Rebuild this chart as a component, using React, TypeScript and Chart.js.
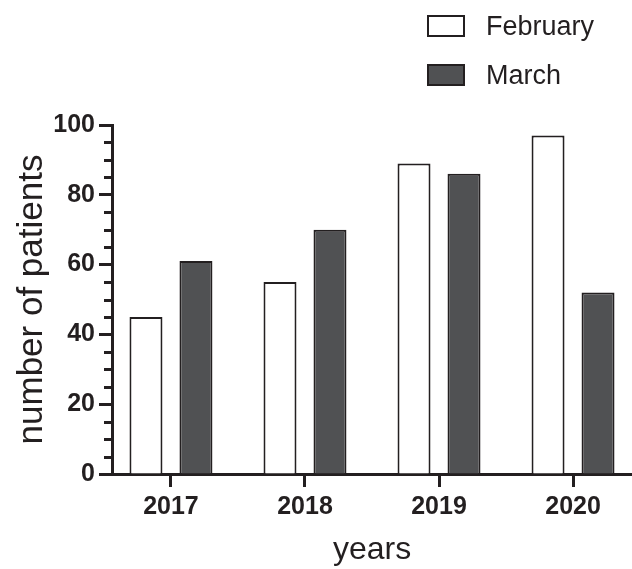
import React, { useEffect, useRef } from 'react';
import { Chart, registerables } from 'chart.js';

Chart.register(...registerables);

// ---- data ----
const categories: string[] = ['2017', '2018', '2019', '2020'];
const seriesLabels: string[] = ['February', 'March'];
const february: number[] = [45, 55, 89, 97];
const march: number[] = [61, 70, 86, 52];
const yMajorTicks: number[] = [0, 20, 40, 60, 80, 100];
const yMinorTicks: number[] = [5, 10, 15, 25, 30, 35, 45, 50, 55, 65, 70, 75, 85, 90, 95];
const xTitle = 'years';
const yTitle = 'number of patients';

// ---- styles ----
const INK = '#231f20';
const FEB_FILL = '#ffffff';
const MAR_FILL = '#505153';
const FONT = '"Liberation Sans", Arial, Helvetica, sans-serif';
const W = 632;
const H = 569;

const decorPlugin = {
  id: 'decor',
  afterDraw(chart: any) {
    const ctx = chart.ctx;
    const y = chart.scales.y;
    const area = chart.chartArea;
    ctx.save();
    // minor ticks on y axis
    ctx.strokeStyle = INK;
    ctx.lineWidth = 3;
    yMinorTicks.forEach((v) => {
      const py = Math.round(y.getPixelForValue(v)) + 0.5;
      ctx.beginPath();
      ctx.moveTo(area.left - 8, py);
      ctx.lineTo(area.left, py);
      ctx.stroke();
    });
    // legend (vertical, top right)
    chart.data.datasets.forEach((ds: any, i: number) => {
      const top = 16 + i * 49;
      ctx.fillStyle = ds.backgroundColor;
      ctx.fillRect(428, top, 36, 20);
      ctx.lineWidth = 2;
      ctx.strokeStyle = INK;
      ctx.strokeRect(428, top, 36, 20);
      ctx.fillStyle = INK;
      ctx.font = `27px ${FONT}`;
      ctx.textBaseline = 'alphabetic';
      ctx.textAlign = 'left';
      ctx.fillText(ds.label, 486, top + 19);
    });
    ctx.restore();
  },
};

export default function App() {
  const ref = useRef<HTMLCanvasElement | null>(null);

  useEffect(() => {
    if (!ref.current) return;
    const chart = new Chart(ref.current, {
      type: 'bar',
      data: {
        datasets: [
          {
            label: seriesLabels[0],
            data: february.map((v, i) => ({ x: i, y: v })),
            backgroundColor: FEB_FILL,
            borderColor: INK,
            borderWidth: 2,
          },
          {
            label: seriesLabels[1],
            data: march.map((v, i) => ({ x: i, y: v })),
            backgroundColor: MAR_FILL,
            borderColor: INK,
            borderWidth: 2,
          },
        ],
      },
      options: {
        responsive: false,
        animation: false,
        devicePixelRatio: 1,
        layout: { padding: { top: 125, left: 0, right: 0, bottom: 0 } },
        datasets: {
          bar: { categoryPercentage: 0.746, barPercentage: 0.66 },
        },
        plugins: {
          legend: { display: false },
          tooltip: { enabled: false },
        },
        scales: {
          x: {
            type: 'linear',
            min: -0.44,
            max: 3.44,
            offset: false,
            afterBuildTicks: (scale: any) => {
              scale.ticks = categories.map((_, i) => ({ value: i }));
            },
            afterFit: (scale: any) => {
              scale.height = 95;
            },
            ticks: {
              autoSkip: false,
              maxRotation: 0,
              padding: 5,
              color: INK,
              font: { family: FONT, size: 25, weight: 'bold' },
              callback: (value: any) => categories[value as number] ?? '',
            },
            grid: {
              offset: false,
              drawOnChartArea: false,
              drawTicks: true,
              tickLength: 13,
              tickWidth: 3,
              tickColor: INK,
            },
            border: { display: true, width: 3, color: INK },
            title: {
              display: true,
              text: xTitle,
              color: INK,
              font: { family: FONT, size: 32 },
              padding: { top: 0, bottom: 0 },
            },
          },
          y: {
            type: 'linear',
            min: 0,
            max: 100,
            afterBuildTicks: (scale: any) => {
              scale.ticks = yMajorTicks.map((v) => ({ value: v }));
            },
            afterFit: (scale: any) => {
              scale.width = 112;
            },
            ticks: {
              padding: 4,
              color: INK,
              font: { family: FONT, size: 25, weight: 'bold' },
            },
            grid: {
              drawOnChartArea: false,
              drawTicks: true,
              tickLength: 13,
              tickWidth: 3,
              tickColor: INK,
            },
            border: { display: true, width: 3, color: INK },
            title: {
              display: true,
              text: yTitle,
              color: INK,
              font: { family: FONT, size: 35 },
              padding: { top: 11, bottom: 0 },
            },
          },
        },
      },
      plugins: [decorPlugin],
    } as any);
    return () => chart.destroy();
  }, []);

  return (
    <div style={{ position: 'fixed', left: 0, top: 0, width: W, height: H, background: '#fff' }}>
      <canvas ref={ref} width={W} height={H} style={{ display: 'block', width: W, height: H }} />
    </div>
  );
}
